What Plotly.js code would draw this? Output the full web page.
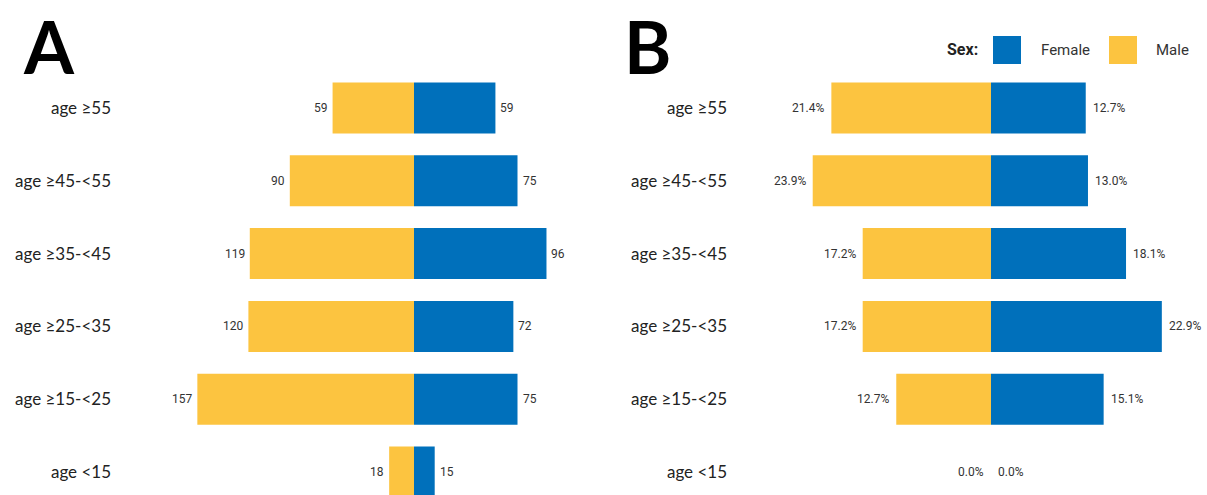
<!DOCTYPE html>
<html>
<head>
<meta charset="utf-8">
<script src="https://cdn.plot.ly/plotly-3.0.1.min.js"></script>
<style>html,body{margin:0;padding:0;background:#fff;}#chart{width:1207px;height:495px;}</style>
</head>
<body>
<div id="chart"></div>
<script>
// ---- data ----
var categories = ['age ≥55', 'age ≥45-<55', 'age ≥35-<45', 'age ≥25-<35', 'age ≥15-<25', 'age <15'];
var maleCount   = [59, 90, 119, 120, 157, 18];
var femaleCount = [59, 75, 96, 72, 75, 15];
var malePct     = [21.4, 23.9, 17.2, 17.2, 12.7, 0.0];
var femalePct   = [12.7, 13.0, 18.1, 22.9, 15.1, 0.0];
var legendTitle = 'Sex:';
var seriesNames = ['Female', 'Male'];

var W = 1207, H = 495;
var BLUE = '#0070BB', YELLOW = '#FCC440';
function px(x){ return x / W; }
function py(y){ return 1 - y / H; }

var neg = function(a){ return a.map(function(v){ return -v; }); };
var catOrder = categories.slice().reverse();

var traces = [
  {type:'bar', orientation:'h', name:'Male', y:categories, x:neg(maleCount), xaxis:'x', yaxis:'y',
   marker:{color:YELLOW, line:{width:0}}, hoverinfo:'skip', showlegend:false},
  {type:'bar', orientation:'h', name:'Female', y:categories, x:femaleCount, xaxis:'x', yaxis:'y',
   marker:{color:BLUE, line:{width:0}}, hoverinfo:'skip', showlegend:false},
  {type:'bar', orientation:'h', name:'Male', y:categories, x:neg(malePct), xaxis:'x2', yaxis:'y2',
   marker:{color:YELLOW, line:{width:0}}, hoverinfo:'skip', showlegend:false},
  {type:'bar', orientation:'h', name:'Female', y:categories, x:femalePct, xaxis:'x2', yaxis:'y2',
   marker:{color:BLUE, line:{width:0}}, hoverinfo:'skip', showlegend:false}
];

var ann = [];
var valFont = {family:'Roboto, Arial, sans-serif', size:12, color:'#333'};
categories.forEach(function(c, i){
  ann.push({xref:'x', yref:'y', x:-maleCount[i], y:c, text:String(maleCount[i]), showarrow:false, xanchor:'right', xshift:-3, font:valFont});
  ann.push({xref:'x', yref:'y', x:femaleCount[i], y:c, text:String(femaleCount[i]), showarrow:false, xanchor:'left', xshift:3, font:valFont});
  ann.push({xref:'x2', yref:'y2', x:-malePct[i], y:c, text:malePct[i].toFixed(1)+'%', showarrow:false, xanchor:'right', xshift:-5, font:valFont});
  ann.push({xref:'x2', yref:'y2', x:femalePct[i], y:c, text:femalePct[i].toFixed(1)+'%', showarrow:false, xanchor:'left', xshift:5, font:valFont});
});
// panel letters
var panelFont = {family:'Lato, "Open Sans", sans-serif', size:72, color:'#000', weight:900};
ann.push({xref:'paper', yref:'paper', x:px(21), y:py(1), xanchor:'left', yanchor:'top', text:'<b>A</b>', showarrow:false, font:panelFont});
ann.push({xref:'paper', yref:'paper', x:px(622), y:py(1), xanchor:'left', yanchor:'top', text:'<b>B</b>', showarrow:false, font:panelFont});
// legend
var legFont = {family:'Roboto, Arial, sans-serif', size:15, color:'#333'};
ann.push({xref:'paper', yref:'paper', x:px(980), y:py(50), xanchor:'right', yanchor:'middle', text:'<b>'+legendTitle+'</b>', showarrow:false, font:{family:'Roboto, Arial, sans-serif', size:16, color:'#222'}});
ann.push({xref:'paper', yref:'paper', x:px(1039), y:py(50), xanchor:'left', yanchor:'middle', text:seriesNames[0], showarrow:false, font:legFont});
ann.push({xref:'paper', yref:'paper', x:px(1154), y:py(50), xanchor:'left', yanchor:'middle', text:seriesNames[1], showarrow:false, font:legFont});
var shapes = [
  {type:'rect', xref:'paper', yref:'paper', x0:px(993), x1:px(1021), y0:py(64), y1:py(36), fillcolor:BLUE, line:{width:0}},
  {type:'rect', xref:'paper', yref:'paper', x0:px(1109), x1:px(1137), y0:py(64), y1:py(36), fillcolor:YELLOW, line:{width:0}}
];

var spacing = 72.8;
var r0 = -(H - 472) / spacing;
var r1 = r0 + H / spacing;
var yCommon = {type:'category', categoryorder:'array', categoryarray:catOrder, range:[r0, r1],
  showgrid:false, zeroline:false, showline:false, ticks:'', ticklabelstandoff:6,
  tickfont:{family:'Lato, "Open Sans", sans-serif', size:17, color:'#222'}, fixedrange:true};
var xCommon = {showgrid:false, zeroline:false, showline:false, showticklabels:false, ticks:'', fixedrange:true};

var layout = {
  width:W, height:H, margin:{l:0, r:0, t:0, b:0},
  paper_bgcolor:'#fff', plot_bgcolor:'#fff',
  barmode:'relative', bargap:0.3, showlegend:false,
  xaxis: Object.assign({}, xCommon, {domain:[px(118), px(600)], range:[(118-414)/1.38, (600-414)/1.38], anchor:'y'}),
  yaxis: Object.assign({}, yCommon, {anchor:'x'}),
  xaxis2: Object.assign({}, xCommon, {domain:[px(734), 1], range:[(734-991)/7.46, (1207-991)/7.46], anchor:'y2'}),
  yaxis2: Object.assign({}, yCommon, {anchor:'x2'}),
  annotations: ann, shapes: shapes
};

Plotly.newPlot('chart', traces, layout, {staticPlot:true, displayModeBar:false});
</script>
</body>
</html>
